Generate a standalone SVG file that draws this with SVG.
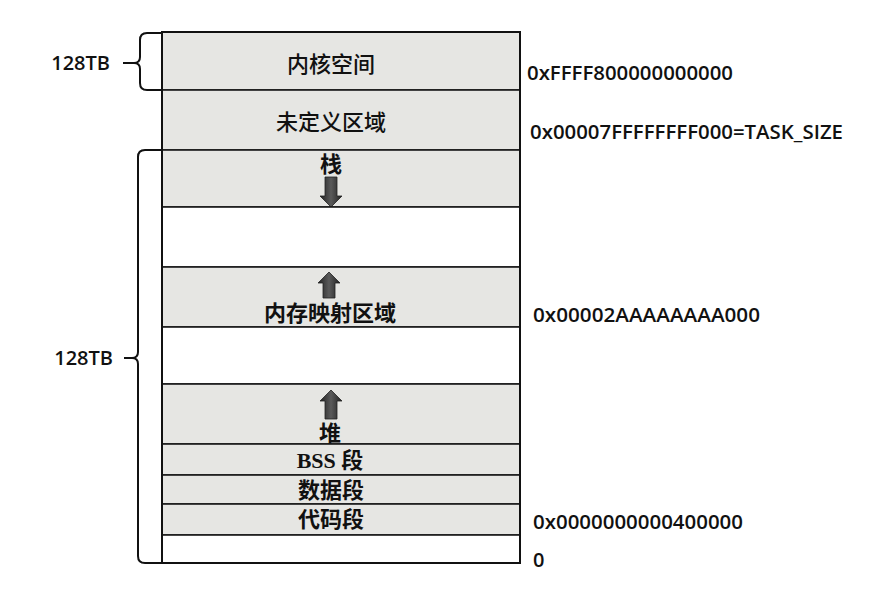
<svg xmlns="http://www.w3.org/2000/svg" width="889" height="589" viewBox="0 0 889 589">
<style>
.sh{fill:#e6e6e3;stroke:#1a1a1a;stroke-width:1.6}
.wh{fill:#ffffff;stroke:#1a1a1a;stroke-width:1.6}
.cj{font-family:"Noto Sans CJK SC",sans-serif;font-size:22px;font-weight:500;fill:#111;text-anchor:middle;dominant-baseline:central}
.cjb{font-family:"Liberation Serif","Noto Sans CJK SC",serif;font-size:22px;font-weight:bold;fill:#111;text-anchor:middle;dominant-baseline:central}
.hx{font-family:"Open Sans","Liberation Sans",sans-serif;font-size:20px;font-weight:600;fill:#111}
.tb{font-family:"Open Sans","Liberation Sans",sans-serif;font-size:20px;font-weight:600;fill:#111;text-anchor:end}
.br{fill:none;stroke:#111;stroke-width:2}
.arr{fill:url(#ag);stroke:#222;stroke-width:0.8}
</style>
<defs>
<linearGradient id="ag" x1="0" y1="0" x2="1" y2="0">
<stop offset="0" stop-color="#222"/>
<stop offset="0.5" stop-color="#5a5a5a"/>
<stop offset="1" stop-color="#222"/>
</linearGradient>
</defs>
<rect width="889" height="589" fill="#ffffff"/>
<g id="kernel"><rect class="sh" x="162" y="32" width="358" height="58"/><text class="cj" x="331" y="62">内核空间</text></g>
<g id="undefined"><rect class="sh" x="162" y="90" width="358" height="60"/><text class="cj" x="331" y="120">未定义区域</text></g>
<g id="stack"><rect class="sh" x="162" y="150" width="358" height="57"/><text class="cjb" x="331" y="164">栈</text>
<path class="arr" d="M325,177 H337 V196 H342 L331,207 L320,196 H325 Z"/></g>
<g id="gap1"><rect class="wh" x="162" y="207" width="358" height="60"/></g>
<g id="mmap"><rect class="sh" x="162" y="267" width="358" height="60"/>
<path class="arr" d="M329,272 L340,283 H335 V298 H323 V283 H318 Z"/>
<text class="cjb" x="330" y="313">内存映射区域</text></g>
<g id="gap2"><rect class="wh" x="162" y="327" width="358" height="57"/></g>
<g id="heap"><rect class="sh" x="162" y="384" width="358" height="60"/>
<path class="arr" d="M331,390 L342,401 H337 V419 H325 V401 H320 Z"/>
<text class="cjb" x="330" y="433">堆</text></g>
<g id="bss"><rect class="sh" x="162" y="444" width="358" height="31"/><text class="cjb" x="330" y="460">BSS 段</text></g>
<g id="data"><rect class="sh" x="162" y="475" width="358" height="29"/><text class="cjb" x="331" y="490">数据段</text></g>
<g id="code"><rect class="sh" x="162" y="504" width="358" height="31"/><text class="cjb" x="331" y="519">代码段</text></g>
<g id="bottom"><rect class="wh" x="162" y="535" width="358" height="28"/></g>
<rect x="162" y="32" width="358" height="531" fill="none" stroke="#111" stroke-width="2"/>
<g id="connectors">
<path class="br" d="M162,33 H147 Q140,33 140,40 V57 Q140,63 134,63 Q140,63 140,69 V83 Q140,90 147,90 H162"/>
<line class="br" x1="123" y1="63" x2="134" y2="63" stroke-width="2.5"/>
<path class="br" d="M162,150 H145 Q138,150 138,157 V352 Q138,358 132,358 Q138,358 138,364 V556 Q138,563 145,563 H162"/>
<line class="br" x1="124" y1="358" x2="132" y2="358" stroke-width="2.5"/>
</g>
<g id="labels">
<text class="tb" x="110" y="70">128TB</text>
<text class="tb" x="113" y="365">128TB</text>
<text class="hx" x="527" y="80" textLength="206" lengthAdjust="spacingAndGlyphs">0xFFFF800000000000</text>
<text class="hx" x="530" y="139" textLength="313" lengthAdjust="spacingAndGlyphs">0x00007FFFFFFFF000=TASK_SIZE</text>
<text class="hx" x="533" y="322" textLength="227" lengthAdjust="spacingAndGlyphs">0x00002AAAAAAAA000</text>
<text class="hx" x="533" y="529" textLength="210" lengthAdjust="spacingAndGlyphs">0x0000000000400000</text>
<text class="hx" x="533" y="567">0</text>
</g>
</svg>
